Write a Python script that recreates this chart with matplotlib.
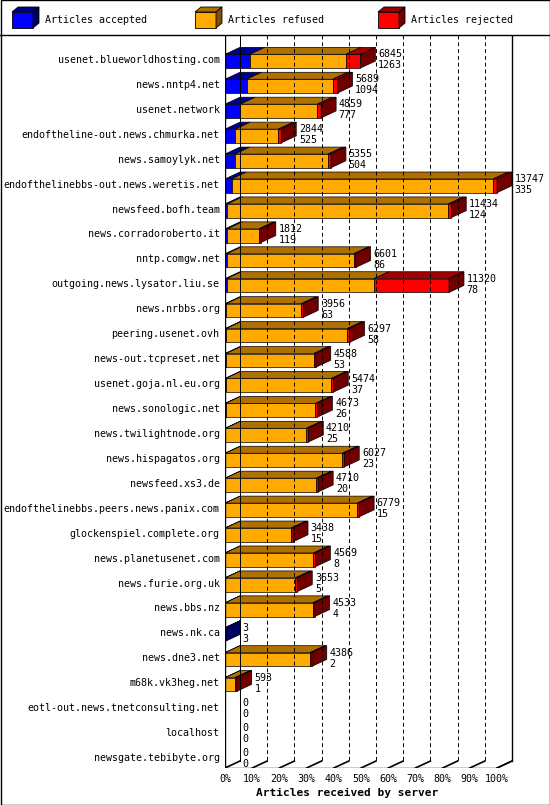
import matplotlib
matplotlib.use("Agg")
import matplotlib.pyplot as plt
from matplotlib.patches import Polygon

servers = ["usenet.blueworldhosting.com","news.nntp4.net","usenet.network","endoftheline-out.news.chmurka.net",
"news.samoylyk.net","endofthelinebbs-out.news.weretis.net","newsfeed.bofh.team","news.corradoroberto.it",
"nntp.comgw.net","outgoing.news.lysator.liu.se","news.nrbbs.org","peering.usenet.ovh","news-out.tcpreset.net",
"usenet.goja.nl.eu.org","news.sonologic.net","news.twilightnode.org","news.hispagatos.org","newsfeed.xs3.de",
"endofthelinebbs.peers.news.panix.com","glockenspiel.complete.org","news.planetusenet.com","news.furie.org.uk",
"news.bbs.nz","news.nk.ca","news.dne3.net","m68k.vk3heg.net","eotl-out.news.tnetconsulting.net","localhost",
"newsgate.tebibyte.org"]
totals = [6845,5689,4859,2844,5355,13747,11434,1812,6601,11320,3956,6297,4588,5474,4673,4210,6027,4710,6779,3438,4569,3653,4533,3,4386,593,0,0,0]
accepted = [1263,1094,777,525,504,335,124,119,86,78,63,58,53,37,26,25,23,20,15,15,8,5,4,3,2,1,0,0,0]
rejected = [732,250,200,150,150,200,150,100,100,3792,100,120,100,100,100,100,100,100,100,100,100,100,100,0,100,80,0,0,0]
refused = [t-a-r for t,a,r in zip(totals,accepted,rejected)]
ticks = ["0%","10%","20%","30%","40%","50%","60%","70%","80%","90%","100%"]

W,H = 550,805
fig = plt.figure(figsize=(5.5,8.05),dpi=100)
bg = fig.add_axes([0,0,1,1]); bg.set_xlim(0,W); bg.set_ylim(H,0); bg.axis('off')
bg.add_patch(plt.Rectangle((0.5,0.5),W-1,H-1,fill=False,ec='black',lw=1))
bg.plot([0,W],[35,35],color='black',lw=1)
font = dict(family='DejaVu Sans Mono', fontsize=7.2)
cols = [('#0000ff','#000090','#000060'),('#ffaa00','#b07000','#805000'),('#ff0000','#a00000','#700000')]
for (x0,lab),(f,t,s) in zip([(12,"Articles accepted"),(195,"Articles refused"),(378,"Articles rejected")],cols):
    bg.add_patch(Polygon([(x0,12),(x0+21,12),(x0+21,28),(x0,28)],fc=f,ec='black',lw=0.6))
    bg.add_patch(Polygon([(x0,12),(x0+6,7),(x0+27,7),(x0+21,12)],fc=t,ec='black',lw=0.6))
    bg.add_patch(Polygon([(x0+21,12),(x0+27,7),(x0+27,23),(x0+21,28)],fc=s,ec='black',lw=0.6))
    bg.text(x0+33,20,lab,va='center',**font)

n = len(servers)
ytop, ybot = -1.0, 28.4
ax = fig.add_axes([225/W, 1-768/H, 290/W, 733/H])
ax.set_xlim(0,1.066); ax.set_ylim(ybot, ytop)
ax.axis('off')
mx = max(totals)
dx, dy, bh = 0.055, 0.28, 0.55
for i in range(11):
    x = i/10
    ax.plot([x+dx,x+dx],[ytop,ybot-dy],ls=(0,(4,3)),color='black',lw=0.7)
    ax.plot([x,x+dx],[ybot,ybot-dy],color='black',lw=1.2)
    ax.text(x,ybot+0.25,ticks[i],ha='center',va='top',clip_on=False,**font)
ax.plot([0,0],[ytop,ybot],color='black',lw=1)
ax.plot([dx,dx],[ytop,ybot-dy],color='black',lw=0.7)
ax.plot([0,1.0],[ybot,ybot],color='black',lw=1)
ax.plot([1.0+dx,1.0+dx],[ytop,ybot-dy],color='black',lw=1)
ax.plot([1.0,1.0+dx],[ybot,ybot-dy],color='black',lw=1)
ax.text(0.45,ybot+1.0,"Articles received by server",ha='center',va='center',fontweight='bold',
        family='DejaVu Sans Mono',fontsize=8,clip_on=False)

for i,name in enumerate(servers):
    yc = i+0.05
    y0, y1 = yc-bh/2, yc+bh/2
    ax.text(-0.02,i,name,ha='right',va='center',clip_on=False,**font)
    segs = [accepted[i],refused[i],rejected[i]]
    x = 0
    last = None
    for v,(f,t,s) in zip(segs,cols):
        if v <= 0: continue
        w = v/mx
        ax.add_patch(Polygon([(x,y1),(x+w,y1),(x+w,y0),(x,y0)],fc=f,ec='black',lw=0.5))
        ax.add_patch(Polygon([(x,y0),(x+dx,y0-dy),(x+w+dx,y0-dy),(x+w,y0)],fc=t,ec='black',lw=0.5))
        x += w; last = s
    if last:
        ax.add_patch(Polygon([(x,y0),(x+dx,y0-dy),(x+dx,y1-dy),(x,y1)],fc=last,ec='black',lw=0.5))
    xt = x+dx+0.01
    ax.text(xt,i-0.22,str(totals[i]),ha='left',va='center',clip_on=False,**font)
    ax.text(xt,i+0.22,str(accepted[i]),ha='left',va='center',clip_on=False,**font)

fig.savefig("out.png",dpi=100)
